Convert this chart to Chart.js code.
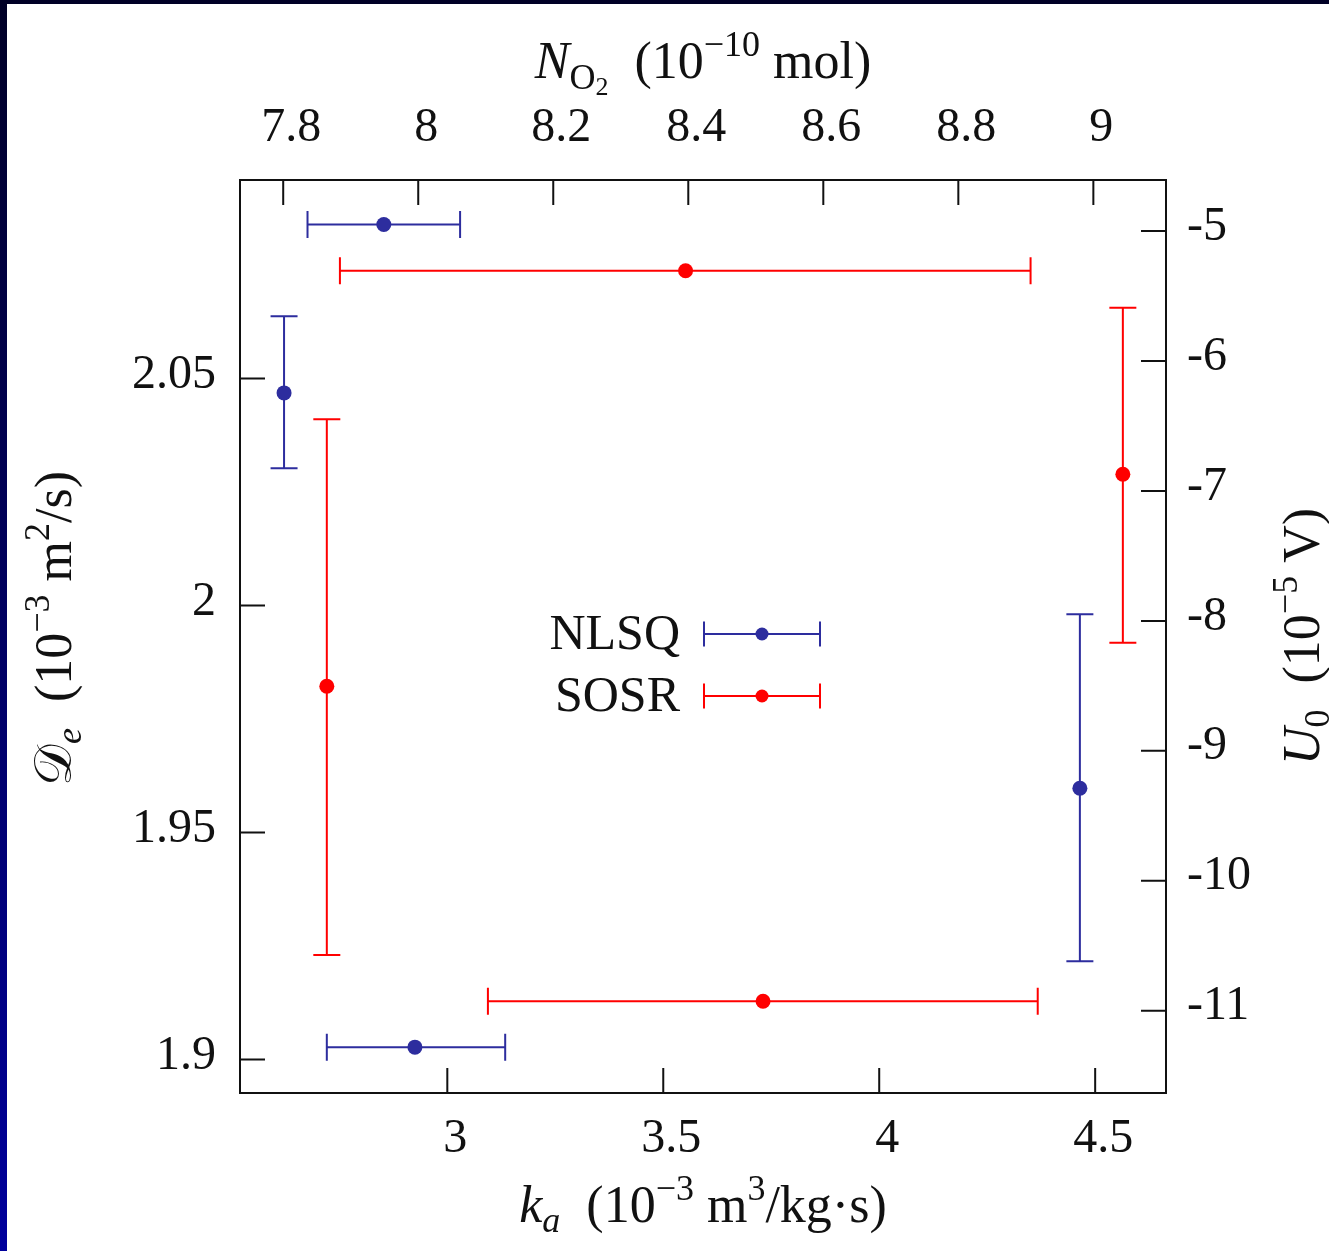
<!DOCTYPE html>
<html>
<head>
<meta charset="utf-8">
<title>NLSQ x SOSR</title>
<script src="https://cdn.jsdelivr.net/npm/chart.js@4.4.1/dist/chart.umd.min.js"></script>
<style>
  html, body { margin: 0; padding: 0; }
  body { width: 1329px; height: 1251px; overflow: hidden; background: linear-gradient(to bottom, #000026, #00009c); }
  #frame { position: absolute; left: 7px; top: 4px; width: 1322px; height: 1247px; background: #fff; }
  canvas { display: block; }
</style>
</head>
<body>
<div id="frame"><canvas id="myChart" width="1322" height="1247"></canvas></div>
<script>
const methods = ['NLSQ', 'SOSR'];
const colors = ['#2d2d9e', '#ff0000'];

// k_a (10^-3 m^3/kg.s), bottom axis
const kaValue = [2.925, 3.731];
const kaLow = [2.721, 3.094];
const kaHigh = [3.134, 4.367];
const kaRow = [1.9027, 1.9128];      // placed at these D_e values

// D_e (10^-3 m^2/s), left axis
const deValue = [2.0468, 1.9822];
const deLow = [2.0302, 1.9230];
const deHigh = [2.0637, 2.0410];
const deCol = [2.622, 2.721];        // placed at these k_a values

// N_O2 (10^-10 mol), top axis
const nValue = [7.949, 8.396];
const nLow = [7.836, 7.884];
const nHigh = [8.062, 8.907];
const nRow = [2.0839, 2.0737];       // placed at these D_e values

// U_0 (10^-5 V), right axis
const uValue = [-9.288, -6.871];
const uLow = [-10.62, -8.169];
const uHigh = [-7.948, -5.590];
const uCol = [4.4646, 4.5641];       // placed at these k_a values

// axis ranges and ticks
const kaRange = [2.52, 4.664];
const deRange = [1.8926, 2.0937];
const nRange = [7.736, 9.1076];
const uRange = [-11.633, -4.607];
const kaTicks = [3, 3.5, 4, 4.5];
const deTicks = [1.9, 1.95, 2, 2.05];
const nTicks = [7.8, 8, 8.2, 8.4, 8.6, 8.8, 9];
const uTicks = [-5, -6, -7, -8, -9, -10, -11];

const serif = 'Liberation Serif';
const ink = '#111';

function makeSet(label, i, dir, xAxis, yAxis, vals, lows, highs, pos) {
    const p = dir === 'h'
        ? { x: vals[i], y: pos[i], min: lows[i], max: highs[i] }
        : { x: pos[i], y: vals[i], min: lows[i], max: highs[i] };
    return {
        label: label + ' ' + methods[i],
        data: [p],
        errDir: dir,
        xAxisID: xAxis,
        yAxisID: yAxis,
        borderColor: colors[i],
        backgroundColor: colors[i],
        pointRadius: 7.5,
        pointBorderWidth: 0,
        showLine: false
    };
}

const datasets = [];
for (let i = 0; i < methods.length; i++) {
    datasets.push(makeSet('ka', i, 'h', 'x', 'y', kaValue, kaLow, kaHigh, kaRow));
    datasets.push(makeSet('De', i, 'v', 'x', 'y', deValue, deLow, deHigh, deCol));
    datasets.push(makeSet('NO2', i, 'h', 'xTop', 'y', nValue, nLow, nHigh, nRow));
    datasets.push(makeSet('U0', i, 'v', 'x', 'yRight', uValue, uLow, uHigh, uCol));
}

// error bars with caps
const errorBars = {
    id: 'errorBars',
    beforeDatasetsDraw(chart) {
        const ctx = chart.ctx;
        const cap = 13.5;
        chart.data.datasets.forEach(ds => {
            const xs = chart.scales[ds.xAxisID];
            const ys = chart.scales[ds.yAxisID];
            ctx.save();
            ctx.strokeStyle = ds.borderColor;
            ctx.lineWidth = 2;
            ds.data.forEach(p => {
                ctx.beginPath();
                if (ds.errDir === 'h') {
                    const y = ys.getPixelForValue(p.y);
                    const a = xs.getPixelForValue(p.min);
                    const b = xs.getPixelForValue(p.max);
                    ctx.moveTo(a, y); ctx.lineTo(b, y);
                    ctx.moveTo(a, y - cap); ctx.lineTo(a, y + cap);
                    ctx.moveTo(b, y - cap); ctx.lineTo(b, y + cap);
                } else {
                    const x = xs.getPixelForValue(p.x);
                    const a = ys.getPixelForValue(p.min);
                    const b = ys.getPixelForValue(p.max);
                    ctx.moveTo(x, a); ctx.lineTo(x, b);
                    ctx.moveTo(x - cap, a); ctx.lineTo(x + cap, a);
                    ctx.moveTo(x - cap, b); ctx.lineTo(x + cap, b);
                }
                ctx.stroke();
            });
            ctx.restore();
        });
    }
};

// tick marks pointing into the plot
const inwardTicks = {
    id: 'inwardTicks',
    beforeDatasetsDraw(chart) {
        const { ctx, chartArea: a, scales } = chart;
        const len = 25;
        ctx.save();
        ctx.strokeStyle = ink;
        ctx.lineWidth = 2;
        ctx.beginPath();
        scales.x.ticks.forEach(t => {
            const px = scales.x.getPixelForValue(t.value);
            ctx.moveTo(px, a.bottom); ctx.lineTo(px, a.bottom - len);
        });
        scales.xTop.ticks.forEach(t => {
            const px = scales.xTop.getPixelForValue(t.value);
            ctx.moveTo(px, a.top); ctx.lineTo(px, a.top + len);
        });
        scales.y.ticks.forEach(t => {
            const py = scales.y.getPixelForValue(t.value);
            ctx.moveTo(a.left, py); ctx.lineTo(a.left + len, py);
        });
        scales.yRight.ticks.forEach(t => {
            const py = scales.yRight.getPixelForValue(t.value);
            ctx.moveTo(a.right, py); ctx.lineTo(a.right - len, py);
        });
        ctx.stroke();
        ctx.restore();
    }
};

// axis titles with sub/superscripts
const titleSize = 52;
const titleBottom = [
    { t: 'k', i: 1 }, { t: 'a', i: 1, s: 0.7, dy: 0.2 },
    { t: '  (10' }, { t: '\u22123', s: 0.7, dy: -0.42 },
    { t: ' m' }, { t: '3', s: 0.7, dy: -0.42 }, { t: '/kg\u00b7s)' }
];
const titleTop = [
    { t: 'N', i: 1 }, { t: 'O', s: 0.7, dy: 0.22 }, { t: '2', s: 0.5, dy: 0.32 },
    { t: '  (10' }, { t: '\u221210', s: 0.7, dy: -0.42 }, { t: ' mol)' }
];
const titleLeft = [
    { t: '\ud835\udc9f' }, { t: 'e', i: 1, s: 0.7, dy: 0.2 },
    { t: '  (10' }, { t: '\u22123', s: 0.7, dy: -0.42 },
    { t: ' m' }, { t: '2', s: 0.7, dy: -0.42 }, { t: '/s)' }
];
const titleRight = [
    { t: 'U', i: 1 }, { t: '0', s: 0.7, dy: 0.2 },
    { t: '  (10' }, { t: '\u22125', s: 0.7, dy: -0.42 }, { t: ' V)' }
];

function drawRich(ctx, runs, size) {
    let total = 0;
    runs.forEach(r => {
        ctx.font = (r.i ? 'italic ' : '') + Math.round(size * (r.s || 1)) + 'px "' + serif + '"';
        r.w = ctx.measureText(r.t).width;
        total += r.w;
    });
    let x = -total / 2;
    runs.forEach(r => {
        ctx.font = (r.i ? 'italic ' : '') + Math.round(size * (r.s || 1)) + 'px "' + serif + '"';
        ctx.fillText(r.t, x, (r.dy || 0) * size);
        x += r.w;
    });
}

const axisTitles = {
    id: 'axisTitles',
    afterDraw(chart) {
        const { ctx, chartArea: a } = chart;
        const cx = (a.left + a.right) / 2;
        const cy = (a.top + a.bottom) / 2;
        ctx.save();
        ctx.fillStyle = ink;
        ctx.textBaseline = 'alphabetic';
        ctx.textAlign = 'left';

        ctx.save(); ctx.translate(cx, 1218); drawRich(ctx, titleBottom, titleSize); ctx.restore();
        ctx.save(); ctx.translate(cx, 74); drawRich(ctx, titleTop, titleSize); ctx.restore();
        ctx.save(); ctx.translate(64, cy - 8); ctx.rotate(-Math.PI / 2); drawRich(ctx, titleLeft, titleSize); ctx.restore();
        ctx.save(); ctx.translate(1312, cy); ctx.rotate(-Math.PI / 2); drawRich(ctx, titleRight, titleSize); ctx.restore();
        ctx.restore();
    }
};

// legend with error bar samples
const errLegend = {
    id: 'errLegend',
    afterDatasetsDraw(chart) {
        const { ctx, chartArea: a } = chart;
        const textRight = a.left + 440;
        const x0 = a.left + 464, x1 = a.left + 580;
        const cap = 12.5;
        ctx.save();
        ctx.font = '50px "' + serif + '"';
        ctx.textAlign = 'right';
        ctx.textBaseline = 'alphabetic';
        methods.forEach((m, i) => {
            const y = a.top + 454 + i * 62;
            ctx.fillStyle = ink;
            ctx.fillText(m, textRight, y + 15);
            ctx.strokeStyle = colors[i];
            ctx.lineWidth = 2;
            ctx.beginPath();
            ctx.moveTo(x0, y); ctx.lineTo(x1, y);
            ctx.moveTo(x0, y - cap); ctx.lineTo(x0, y + cap);
            ctx.moveTo(x1, y - cap); ctx.lineTo(x1, y + cap);
            ctx.stroke();
            ctx.fillStyle = colors[i];
            ctx.beginPath();
            ctx.arc((x0 + x1) / 2, y, 6.5, 0, Math.PI * 2);
            ctx.fill();
        });
        ctx.restore();
    }
};

function axis(position, range, ticks, size) {
    return {
        type: 'linear',
        position: position,
        min: range[0],
        max: range[1],
        grid: { display: false },
        border: { display: true, color: ink, width: 2 },
        ticks: {
            color: ink,
            font: { family: serif, size: 48 },
            autoSkip: false,
            maxRotation: 0,
            callback: v => String(v)
        },
        afterBuildTicks: s => { s.ticks = ticks.map(v => ({ value: v })); },
        afterFit: s => {
            if (position === 'top' || position === 'bottom') s.height = size;
            else s.width = size;
        }
    };
}

const scales = {
    x: axis('bottom', kaRange, kaTicks, 158),
    xTop: axis('top', nRange, nTicks, 176),
    y: axis('left', deRange, deTicks, 233),
    yRight: axis('right', uRange, uTicks, 163)
};
scales.x.ticks.padding = 10;
scales.x.ticks.labelOffset = 8;
scales.xTop.ticks.padding = 15;
scales.xTop.ticks.labelOffset = 8;
scales.y.ticks.padding = 16;
scales.y.ticks.labelOffset = -3;
scales.yRight.ticks.padding = 13;
scales.yRight.ticks.labelOffset = -4;

const ctx = document.getElementById('myChart').getContext('2d');
new Chart(ctx, {
    type: 'scatter',
    data: { datasets: datasets },
    options: {
        responsive: false,
        animation: false,
        layout: { padding: 0 },
        scales: scales,
        plugins: {
            legend: { display: false },
            tooltip: { enabled: false }
        }
    },
    plugins: [inwardTicks, errorBars, errLegend, axisTitles]
});
</script>
</body>
</html>
